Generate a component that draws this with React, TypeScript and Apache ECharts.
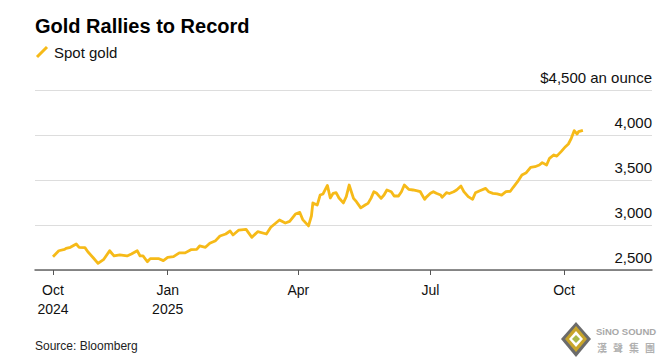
import React, { useEffect, useRef } from "react";
import * as echarts from "echarts";

const dates: string[] = [
  "2024-10-14","2024-10-18","2024-10-22","2024-10-23","2024-10-26","2024-10-30","2024-11-01","2024-11-05","2024-11-07","2024-11-11",
  "2024-11-14","2024-11-18","2024-11-22","2024-11-25","2024-11-29","2024-12-04","2024-12-07","2024-12-11","2024-12-13","2024-12-15",
  "2024-12-18","2024-12-20","2024-12-26","2024-12-29","2025-01-01","2025-01-05","2025-01-09","2025-01-13","2025-01-17","2025-01-21",
  "2025-01-23","2025-01-27","2025-01-30","2025-02-03","2025-02-06","2025-02-10","2025-02-13","2025-02-15","2025-02-19","2025-02-24",
  "2025-02-28","2025-03-04","2025-03-10","2025-03-13","2025-03-19","2025-03-23","2025-03-26","2025-03-30","2025-04-02","2025-04-04",
  "2025-04-08","2025-04-10","2025-04-11","2025-04-14","2025-04-16","2025-04-18","2025-04-21","2025-04-23","2025-04-25","2025-04-27",
  "2025-04-29","2025-05-02","2025-05-04","2025-05-06","2025-05-09","2025-05-11","2025-05-14","2025-05-17","2025-05-19","2025-05-21",
  "2025-05-23","2025-05-25","2025-05-28","2025-05-30","2025-06-01","2025-06-04","2025-06-06","2025-06-09","2025-06-11","2025-06-13",
  "2025-06-16","2025-06-19","2025-06-22","2025-06-24","2025-06-27","2025-06-28","2025-07-01","2025-07-03","2025-07-05","2025-07-08",
  "2025-07-09","2025-07-12","2025-07-14","2025-07-17","2025-07-19","2025-07-22","2025-07-24","2025-07-27","2025-07-30","2025-08-01",
  "2025-08-04","2025-08-08","2025-08-10","2025-08-13","2025-08-16","2025-08-19","2025-08-22","2025-08-25","2025-08-27","2025-08-30",
  "2025-09-02","2025-09-05","2025-09-08","2025-09-11","2025-09-14","2025-09-16","2025-09-19","2025-09-21","2025-09-24","2025-09-26",
  "2025-09-29","2025-10-02","2025-10-04","2025-10-06","2025-10-08","2025-10-10","2025-10-11","2025-10-14",
];

const spotGold: number[] = [
  2648, 2714, 2730, 2741, 2752, 2789, 2752, 2748, 2703, 2630,
  2574, 2619, 2714, 2656, 2667, 2656, 2678, 2714, 2656, 2656,
  2592, 2626, 2626, 2604, 2641, 2648, 2690, 2690, 2726, 2730,
  2767, 2752, 2797, 2826, 2878, 2900, 2933, 2889, 2944, 2952,
  2863, 2926, 2900, 2975, 3056, 3022, 3040, 3122, 3140, 3060,
  2990, 3100, 3245, 3222, 3333, 3345, 3440, 3300, 3352, 3359,
  3300, 3245, 3315, 3444, 3296, 3259, 3190, 3222, 3240, 3296,
  3370, 3352, 3296, 3333, 3389, 3370, 3322, 3322, 3370, 3444,
  3396, 3389, 3380, 3370, 3285, 3307, 3352, 3370, 3352, 3333,
  3307, 3359, 3350, 3370, 3389, 3433, 3370, 3315, 3285, 3359,
  3381, 3407, 3370, 3352, 3345, 3333, 3370, 3375, 3419, 3481,
  3556, 3581, 3641, 3648, 3667, 3693, 3667, 3741, 3778, 3765,
  3815, 3870, 3900, 3963, 4048, 4011, 4037, 4052,
];

const tickDates: string[] = ["2024-10-14", "2025-01-01", "2025-04-01", "2025-07-01", "2025-10-01"];
const tickLabels: string[] = ["Oct\n2024", "Jan\n2025", "Apr", "Jul", "Oct"];
const yTicks: number[] = [2500, 3000, 3500, 4000, 4500];
const logoChars: string[] = ["漢", "聲", "集", "團"];

const DAY = 86400000;
const toMs = (s: string) => {
  const [y, m, d] = s.split("-").map(Number);
  return Date.UTC(y, m - 1, d);
};

const GOLD = "#F6BA18";
const FONT = "'Liberation Sans', Arial, Helvetica, sans-serif";

export default function App() {
  const ref = useRef<HTMLDivElement>(null);
  useEffect(() => {
    if (!ref.current) return;
    const chart = echarts.init(ref.current, null, { renderer: "svg" });
    const base = toMs(tickDates[0]);
    const toDay = (s: string) => (toMs(s) - base) / DAY;
    const tickDays = tickDates.map(toDay);
    const data = dates.map((d, i) => [toDay(d), spotGold[i]]);
    chart.setOption({
      animation: false,
      backgroundColor: "#ffffff",
      textStyle: { fontFamily: FONT },
      grid: { left: 35, right: 10, top: 90, bottom: 90, containLabel: false },
      xAxis: {
        type: "value",
        min: -12.4,
        max: 412.6,
        axisLine: { show: true, lineStyle: { color: "#666666", width: 1.5 } },
        axisTick: { show: true, length: 5, customValues: tickDays, lineStyle: { color: "#555555", width: 1 } },
        axisLabel: {
          customValues: tickDays,
          showMinLabel: true,
          showMaxLabel: true,
          color: "#111111",
          fontSize: 14,
          fontFamily: FONT,
          lineHeight: 19,
          margin: 10,
          formatter: (v: number) => {
            let best = 0;
            for (let i = 0; i < tickDays.length; i++) {
              if (Math.abs(tickDays[i] - v) < Math.abs(tickDays[best] - v)) best = i;
            }
            return tickLabels[best];
          },
        },
        splitLine: { show: false },
      },
      yAxis: {
        type: "value",
        position: "right",
        min: yTicks[0],
        max: yTicks[yTicks.length - 1],
        interval: 500,
        axisLine: { show: false },
        axisTick: { show: false },
        splitLine: { show: true, lineStyle: { color: "#dddddd", width: 1 } },
        axisLabel: {
          inside: true,
          margin: 0,
          color: "#111111",
          fontSize: 15,
          fontFamily: FONT,
          verticalAlign: "bottom",
          padding: [0, 0, 5, 0],
          showMinLabel: true,
          showMaxLabel: true,
          formatter: (v: number) =>
            v === yTicks[yTicks.length - 1] ? "$4,500 an ounce" : v.toLocaleString("en-US"),
        },
      },
      series: [
        {
          type: "line",
          name: "Spot gold",
          data,
          showSymbol: false,
          symbol: "none",
          lineStyle: { color: GOLD, width: 2.8, join: "round" },
          itemStyle: { color: GOLD },
        },
      ],
      graphic: [
        {
          type: "text",
          x: 35,
          y: 26,
          style: { text: "Gold Rallies to Record", font: `bold 20px ${FONT}`, fill: "#000000", verticalAlign: "middle" },
        },
        {
          type: "line",
          shape: { x1: 37, y1: 57, x2: 47, y2: 47 },
          style: { stroke: GOLD, lineWidth: 3 },
        },
        {
          type: "text",
          x: 54,
          y: 52.5,
          style: { text: "Spot gold", font: `15px ${FONT}`, fill: "#111111", verticalAlign: "middle" },
        },
        {
          type: "text",
          x: 35,
          y: 346,
          style: { text: "Source: Bloomberg", font: `12px ${FONT}`, fill: "#222222", verticalAlign: "middle" },
        },
        { type: "polygon", shape: { points: [[576, 322], [591, 339], [576, 357], [561, 339]] }, style: { fill: "#6b6b6b" } },
        { type: "polygon", shape: { points: [[576, 326], [587, 339], [576, 352], [565, 339]] }, style: { fill: "#c9a52a" } },
        { type: "polygon", shape: { points: [[576, 331], [583, 339], [576, 347], [569, 339]] }, style: { fill: "#ffffff" } },
        { type: "polygon", shape: { points: [[576, 335], [580, 339], [576, 343], [572, 339]] }, style: { fill: "#a8b848" } },
        {
          type: "text",
          x: 596,
          y: 331,
          style: { text: "SiNO SOUND", font: `bold 9.5px ${FONT}`, fill: "#a8a8a8", verticalAlign: "middle" },
        },
        ...logoChars.map((c, i) => ({
          type: "text",
          x: 597 + i * 16,
          y: 347,
          style: { text: c, font: `bold 10px 'Noto Sans CJK TC', sans-serif`, fill: "#b0b0b0", verticalAlign: "middle" },
        })),
      ],
    });
    return () => chart.dispose();
  }, []);
  return <div ref={ref} style={{ width: 662, height: 360, position: "absolute", left: 0, top: 0 }} />;
}
